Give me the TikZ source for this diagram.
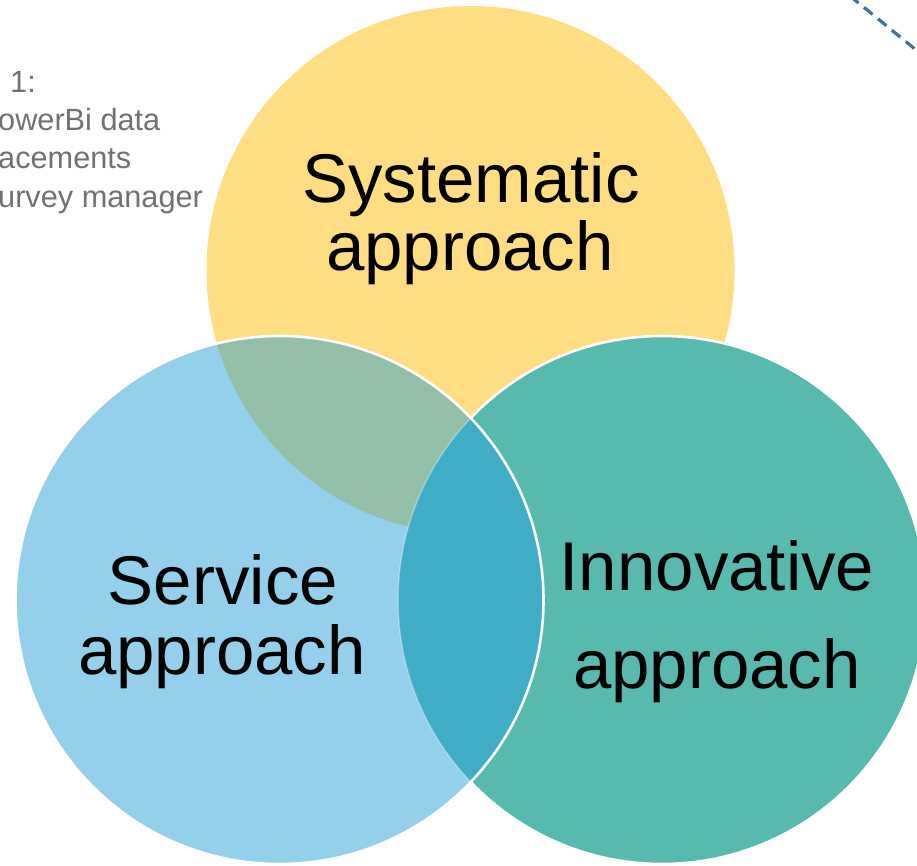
\documentclass[tikz,border=0pt]{standalone}
\usepackage{fontspec}
\setmainfont{Liberation Sans}
\definecolor{cyellow}{HTML}{FFDD82}
\definecolor{cblue}{HTML}{94CFEB}
\definecolor{cteal}{HTML}{58B9AF}
\definecolor{cgray}{HTML}{93BFA8}
\definecolor{clens}{HTML}{40ADC6}
\definecolor{ctext}{HTML}{757070}
\definecolor{cdash}{HTML}{3B73A8}
\tikzset{
  bigtext/.style={inner sep=0pt, anchor=base, font=\fontsize{69}{80}\selectfont, text=black},
  notetext/.style={inner sep=0pt, anchor=base west, font=\fontsize{30.7}{38}\selectfont, text=ctext},
  outline/.style={draw=white, line width=2.6pt},
  dashline/.style={draw=cdash, line width=3.2pt, dash pattern=on 11pt off 7pt}
}
\begin{document}
\begin{tikzpicture}[x=1pt,y=-1pt]
\useasboundingbox (0,0) rectangle (917,865);
\def\R{264}
\coordinate (cy) at (470.5,270);
\coordinate (cb) at (279.5,600);
\coordinate (cg) at (662,600);
% yellow
\fill[cyellow] (cy) circle (\R);
% teal
\fill[cteal] (cg) circle (\R);
\draw[outline] (cg) circle (\R);
% blue
\fill[cblue] (cb) circle (\R);
% overlaps inside blue
\begin{scope}
  \clip (cb) circle (\R);
  \fill[cgray] (cy) circle (\R);
  \fill[clens] (cg) circle (\R);
  \draw[white, opacity=0.35, line width=1.5pt] (cg) circle (\R);
\end{scope}
\draw[outline] (cb) circle (\R);
% texts
\node[bigtext] (sys1) at (471,202) {Systematic};
\node[bigtext] (sys2) at (470,270) {approach};
\node[bigtext] (ser1) at (223,604) {Service};
\node[bigtext] (ser2) at (222,674) {approach};
\node[bigtext] (inn1) at (717,590) {Innovative};
\node[bigtext] (inn2) at (717,688) {approach};
% side note
\node[notetext, anchor=base east] (n1) at (36,92) {1:};
\node[notetext] (n2) at (-2,130) {owerBi data};
\node[notetext] (n3) at (-2,168) {acements};
\node[notetext] (n4) at (-2,207) {urvey manager};
% dashed line
\coordinate (d1) at (850,-4);
\coordinate (d2) at (921,54);
\draw[dashline] (d1) -- (d2);
\end{tikzpicture}
\end{document}
